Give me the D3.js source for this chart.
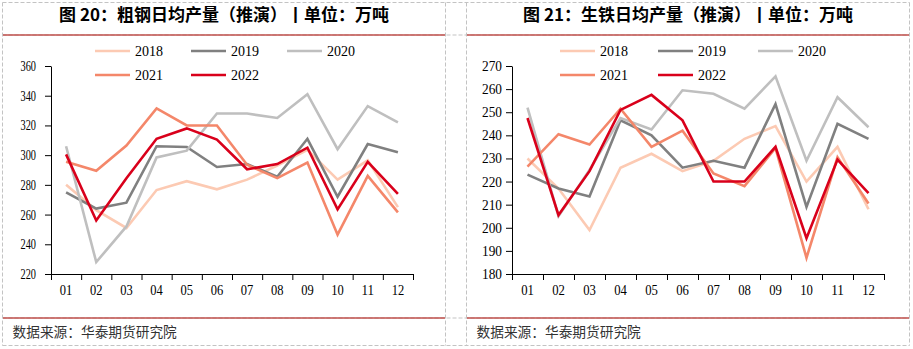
<!DOCTYPE html>
<html><head><meta charset="utf-8">
<script src="https://cdn.jsdelivr.net/npm/d3@7"></script>
<style>
html,body{margin:0;padding:0;background:#fff;}
svg{display:block;}
</style></head>
<body>
<svg id="c" width="913" height="349"></svg>
<script>
const months = ["01","02","03","04","05","06","07","08","09","10","11","12"];
const years = ["2018","2019","2020","2021","2022"];
const colors = ["#fccab3","#808080","#bfbfbf","#f4876a","#d9001b"];

const steelTicks = [220,240,260,280,300,320,340,360];
const steel2018 = [280, 263, 251, 276.5, 282.5, 277, 283.5, 293, 303.5, 283.5, 296.5, 265];
const steel2019 = [275, 264, 268, 306, 305.5, 292, 294, 285.5, 311, 272, 307.5, 302];
const steel2020 = [306, 228, 252, 298.5, 303, 328, 328, 325, 341, 304, 333, 322];
const steel2021 = [295.5, 289.5, 306.5, 331.5, 320, 320, 293.5, 284.5, 295, 246.5, 286, 261.5];
const steel2022 = [300.5, 256, 284.5, 311, 318, 310.5, 290.5, 294, 305, 263.5, 295.5, 274];

const ironTicks = [180,190,200,210,220,230,240,250,260,270];
const iron2018 = [230, 217, 199, 226, 232, 224.5, 229, 238.5, 244, 220, 235, 208];
const iron2019 = [223, 217, 213.5, 246.5, 240, 226, 229, 226, 253.5, 209, 245, 238.5];
const iron2020 = [252, 205, 225, 247.5, 242.5, 259.5, 258, 251.5, 265.5, 229, 256.5, 243.5];
const iron2021 = [226.5, 240.5, 236, 251.5, 235, 242, 223.5, 218, 234.5, 187, 230.5, 210.5];
const iron2022 = [247.5, 205.5, 224.5, 251, 257.5, 246.5, 220, 220, 235, 195.5, 229.5, 215];

const title1 = "图 20：粗钢日均产量（推演）丨单位：万吨";
const title2 = "图 21：生铁日均产量（推演）丨单位：万吨";
const source = "数据来源：华泰期货研究院";

const svg = d3.select("#c");
const serif = "'Liberation Serif','Times New Roman',serif";
const cjk = "'Noto Sans CJK SC','Noto Sans',sans-serif";

// frame grid (dashed)
const dash = "#c3c3c3";
const g0 = svg.append("g");
[2.5,445.5,466.5,909.5].forEach(x=>g0.append("line").attr("x1",x).attr("x2",x).attr("y1",2.5).attr("y2",345.5)
  .attr("stroke",dash).attr("stroke-dasharray","4,2"));
[2.5,35,318,345.5].forEach(y=>g0.append("line").attr("x1",2.5).attr("x2",909.5).attr("y1",y).attr("y2",y)
  .attr("stroke",dash).attr("stroke-dasharray","4,2"));

function panel(opt){
  const g = svg.append("g");
  // red separators
  [35,318].forEach(y=>g.append("line").attr("x1",opt.px0).attr("x2",opt.px1).attr("y1",y).attr("y2",y)
    .attr("stroke","#c0504d").attr("stroke-width",1.3));
  g.append("text").attr("x",(opt.px0+opt.px1)/2).attr("y",21).attr("text-anchor","middle")
    .attr("font-family",cjk).attr("font-weight","bold").attr("font-size",17).attr("fill","#000").text(opt.title);
  g.append("text").attr("x",opt.px0+9.5).attr("y",337).attr("font-family",cjk).attr("font-size",13.7)
    .attr("fill","#333").text(source);

  const x = d3.scaleBand().domain(months).range([opt.x0,opt.x1]);
  const xb = d3.scaleLinear().domain([0,12]).range([opt.x0,opt.x1]);
  const y = d3.scaleLinear().domain(opt.dom).range([274,66]);

  const ya = g.append("g").attr("transform",`translate(${opt.x0},0)`)
    .call(d3.axisLeft(y).tickValues(opt.ticks).tickSize(6).tickSizeOuter(0).tickPadding(opt.ypad));
  ya.selectAll("text").attr("font-family",serif).attr("font-size",14).attr("fill","#000")
    .attr("textLength",opt.ylen).attr("lengthAdjust","spacingAndGlyphs");
  const xa = g.append("g").attr("transform","translate(0,274)")
    .call(d3.axisBottom(xb).tickValues(d3.range(13)).tickFormat("").tickSize(6).tickSizeOuter(0));
  const xl = g.append("g").attr("transform","translate(0,274)")
    .call(d3.axisBottom(x).tickSize(0).tickPadding(11));
  xl.select(".domain").remove();
  xl.selectAll("text").attr("font-family",serif).attr("font-size",14).attr("fill","#000")
    .attr("textLength",opt.xlen).attr("lengthAdjust","spacingAndGlyphs");
  g.selectAll(".domain,.tick line").attr("stroke","#000");

  const line = d3.line().x((d,i)=>x(months[i])+x.bandwidth()/2).y(d=>y(d));
  opt.series.forEach((s,i)=>{
    g.append("path").datum(s).attr("d",line).attr("fill","none").attr("stroke",colors[i])
      .attr("stroke-width",2.6).attr("stroke-linejoin","miter");
  });

  // legend
  years.forEach((yr,i)=>{
    const col = i%3, row = Math.floor(i/3);
    const lx = opt.lx[col], ly = row===0?51:75;
    g.append("line").attr("x1",lx).attr("x2",lx+35).attr("y1",ly).attr("y2",ly)
      .attr("stroke",colors[i]).attr("stroke-width",2.6);
    g.append("text").attr("x",lx+40).attr("y",ly+5).attr("font-family",serif).attr("font-size",14)
      .attr("fill","#000").text(yr);
  });
}

panel({px0:3,px1:445,x0:51,x1:413,dom:[220,360],ticks:steelTicks,ypad:9,ylen:15.5,xlen:12.5,
  title:title1,lx:[95,191,287],series:[steel2018,steel2019,steel2020,steel2021,steel2022]});
panel({px0:467,px1:909,x0:512,x1:884,dom:[180,270],ticks:ironTicks,ypad:4,ylen:20,xlen:12.7,
  title:title2,lx:[560,658,758],series:[iron2018,iron2019,iron2020,iron2021,iron2022]});
</script>
</body></html>
